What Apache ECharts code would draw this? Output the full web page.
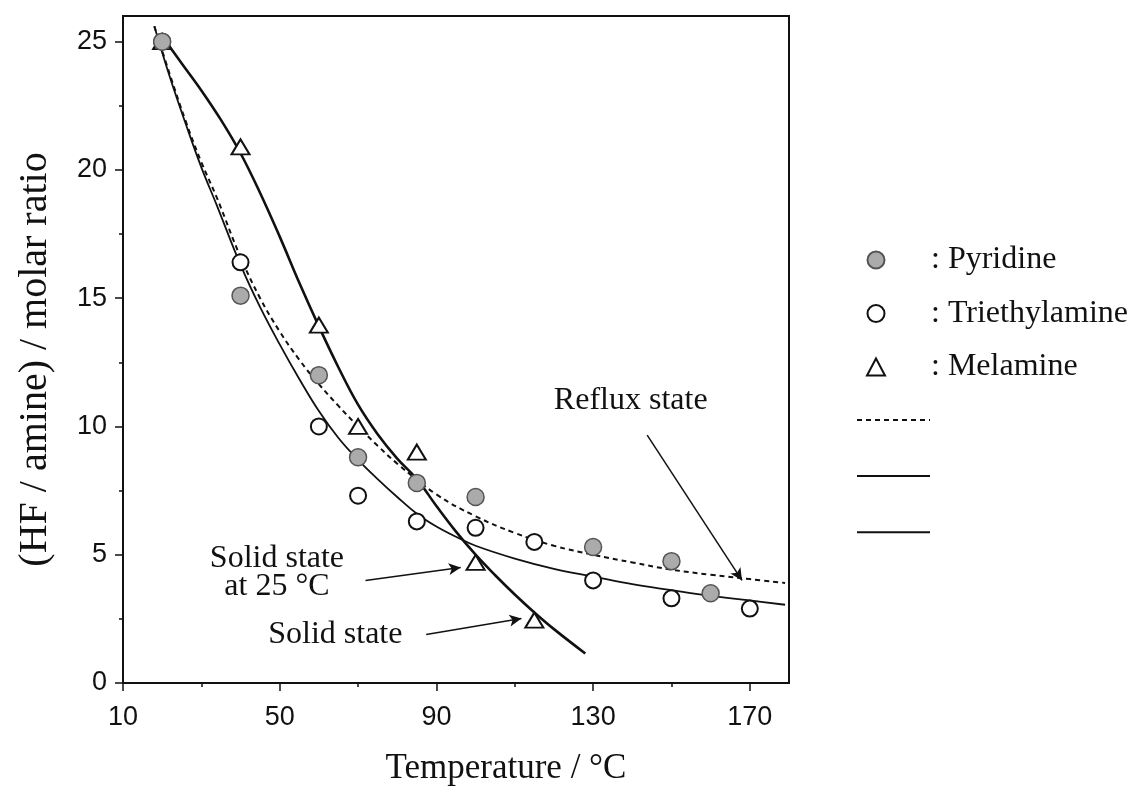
<!DOCTYPE html>
<html>
<head>
<meta charset="utf-8">
<script src="https://cdn.jsdelivr.net/npm/echarts@6/dist/echarts.min.js"></script>
<style>html,body{margin:0;padding:0;background:#fff}#c{width:1138px;height:798px}</style>
</head>
<body>
<div id="c"></div>
<script>
// ---- data ----
const xMajorTicks = [10, 50, 90, 130, 170];
const xMinorTicks = [30, 70, 110, 150];
const yMajorTicks = [0, 5, 10, 15, 20, 25];
const yMinorTicks = [2.5, 7.5, 12.5, 17.5, 22.5];

const pyridinePts = [[20,25.0],[40,15.1],[60,12.0],[70,8.8],[85,7.8],[100,7.25],[130,5.3],[150,4.75],[160,3.5]];
const triethylaminePts = [[20,25.0],[40,16.4],[60,10.0],[70,7.3],[85,6.3],[100,6.05],[115,5.5],[130,4.0],[150,3.3],[170,2.9]];
const melaminePts = [[20,25.0],[40,20.9],[60,13.95],[70,10.0],[85,9.0],[100,4.7],[115,2.45]];

const pyridineFit = [[18,25.6],[22,23.7],[26,21.9],[30,20.3],[34,18.9],[40,16.6],[45,15.0],[50,13.7],[55,12.6],[60,11.65],[65,10.8],[70,10.0],[75,9.25],[80,8.55],[90,7.35],[100,6.5],[110,5.85],[120,5.35],[130,5.0],[140,4.7],[150,4.42],[160,4.22],[170,4.05],[179,3.9]];
const triethylamineFit = [[18,25.6],[22,23.6],[26,21.8],[30,20.1],[34,18.6],[40,16.3],[45,14.65],[50,13.2],[55,11.85],[60,10.6],[65,9.55],[70,8.7],[75,7.95],[80,7.25],[85,6.6],[90,6.1],[95,5.7],[100,5.35],[110,4.85],[120,4.45],[130,4.15],[140,3.85],[150,3.62],[160,3.4],[170,3.22],[179,3.05]];
const melamineFit = [[20.5,25.1],[25,24.15],[30,23.1],[35,21.95],[40,20.65],[45,19.1],[50,17.4],[55,15.6],[60,13.9],[65,12.3],[70,10.85],[75,9.7],[80,8.75],[85,7.95],[90,6.9],[95,5.9],[100,5.0],[105,4.2],[110,3.45],[115,2.75],[120,2.1],[128,1.15]];

const seriesNames = ['Pyridine', 'Triethylamine', 'Melamine'];
const fitNames = ['Pyridine fit', 'Triethylamine fit', 'Melamine fit'];

const annotationTexts = [
  {text: 'Reflux state', at: [139.6, 11.0]},
  {text: 'Solid state\nat 25 °C', at: [49.3, 4.3]},
  {text: 'Solid state', at: [64.2, 1.88]}
];
const arrows = [
  [[143.8, 9.66], [168, 4.0]],
  [[71.9, 4.0], [96.2, 4.5]],
  [[87.4, 1.89], [111.7, 2.51]]
];

const serif = 'Liberation Serif';
const sans = 'Liberation Sans';

const chart = echarts.init(document.getElementById('c'), null, {renderer: 'canvas'});

const option = {
  animation: false,
  backgroundColor: '#fff',
  grid: {left: 123, top: 16, width: 666, height: 667, show: true, borderColor: '#111', borderWidth: 2, backgroundColor: 'transparent'},
  xAxis: [{
    type: 'value', min: 10, max: 180,
    name: 'Temperature / °C', nameLocation: 'middle', nameGap: 68,
    nameTextStyle: {fontFamily: serif, fontSize: 35, color: '#111', padding: [0, 0, 0, 100]},
    axisLine: {show: true, onZero: false, lineStyle: {color: '#111', width: 2}},
    axisTick: {show: true, inside: false, length: 8, lineStyle: {color: '#111', width: 1.5}, customValues: xMajorTicks},
    axisLabel: {fontFamily: sans, fontSize: 27, color: '#111', margin: 21, customValues: xMajorTicks},
    splitLine: {show: false}
  }, {
    type: 'value', min: 10, max: 180, position: 'bottom',
    axisLine: {show: false},
    axisTick: {show: true, length: 4, lineStyle: {color: '#111', width: 1.5}, customValues: xMinorTicks},
    axisLabel: {show: false},
    splitLine: {show: false}
  }],
  yAxis: [{
    type: 'value', min: 0, max: 26,
    name: '(HF / amine) / molar ratio', nameLocation: 'middle', nameGap: 68, nameRotate: 90,
    nameTextStyle: {fontFamily: serif, fontSize: 40, color: '#111', padding: [0, 20, 0, 0]},
    axisLine: {show: true, onZero: false, lineStyle: {color: '#111', width: 2}},
    axisTick: {show: true, length: 8, lineStyle: {color: '#111', width: 1.5}, customValues: yMajorTicks},
    axisLabel: {fontFamily: sans, fontSize: 27, color: '#111', margin: 16, customValues: yMajorTicks},
    splitLine: {show: false}
  }, {
    type: 'value', min: 0, max: 26, position: 'left',
    axisLine: {show: false},
    axisTick: {show: true, length: 4, lineStyle: {color: '#111', width: 1.5}, customValues: yMinorTicks},
    axisLabel: {show: false},
    splitLine: {show: false}
  }],
  legend: [{
    data: seriesNames.map(n => ({name: n})),
    orient: 'vertical', left: 861, top: 239,
    itemWidth: 18, itemHeight: 17, itemGap: 21.5,
    selectedMode: false,
    formatter: n => '{p|}: ' + n,
    textStyle: {fontFamily: serif, fontSize: 32, color: '#111', rich: {p: {width: 41}}}
  }, {
    data: fitNames.map(n => ({name: n})),
    orient: 'vertical', left: 851, top: 408,
    itemWidth: 73, itemHeight: 14, itemGap: 43.5,
    selectedMode: false,
    itemStyle: {opacity: 0},
    formatter: () => '',
    textStyle: {fontSize: 10}
  }],
  series: [
    {name: fitNames[0], type: 'line', data: pyridineFit, smooth: 0.4, symbol: 'none', color: '#111',
     lineStyle: {color: '#111', width: 2, type: [5, 4]}, z: 2, silent: true},
    {name: fitNames[1], type: 'line', data: triethylamineFit, smooth: 0.4, symbol: 'none', color: '#111',
     lineStyle: {color: '#111', width: 1.8, type: 'solid'}, z: 2, silent: true},
    {name: fitNames[2], type: 'line', data: melamineFit, smooth: 0.4, symbol: 'none', color: '#111',
     lineStyle: {color: '#111', width: 2.6, type: 'solid'}, z: 2, silent: true},
    {name: seriesNames[0], type: 'scatter', data: pyridinePts, symbol: 'circle', symbolSize: 17,
     itemStyle: {color: '#ababab', borderColor: '#555', borderWidth: 1.5, opacity: 1}, z: 4},
    {name: seriesNames[1], type: 'scatter', data: triethylaminePts, symbol: 'circle', symbolSize: 16,
     itemStyle: {color: '#fff', borderColor: '#111', borderWidth: 2, opacity: 1}, z: 3},
    {name: seriesNames[2], type: 'scatter', data: melaminePts, symbol: 'triangle', symbolSize: [18, 15],
     itemStyle: {color: '#fff', borderColor: '#111', borderWidth: 2, opacity: 1}, z: 3},
    {name: 'annotations', type: 'line', data: [], silent: true,
     markLine: {
       silent: true, animation: false,
       symbol: ['none', 'arrow'], symbolSize: [9, 12],
       lineStyle: {color: '#111', width: 1.5, type: 'solid'},
       label: {show: false},
       data: arrows.map(a => [{coord: a[0]}, {coord: a[1]}])
     },
     markPoint: {
       silent: true, animation: false,
       symbol: 'circle', symbolSize: 1, itemStyle: {color: 'rgba(0,0,0,0)'},
       label: {show: true, position: 'inside', fontFamily: serif, fontSize: 32, color: '#111', lineHeight: 28, align: 'center',
               formatter: p => p.name},
       data: annotationTexts.map(t => ({name: t.text, coord: t.at}))
     }}
  ]
};
chart.setOption(option);
</script>
</body>
</html>
